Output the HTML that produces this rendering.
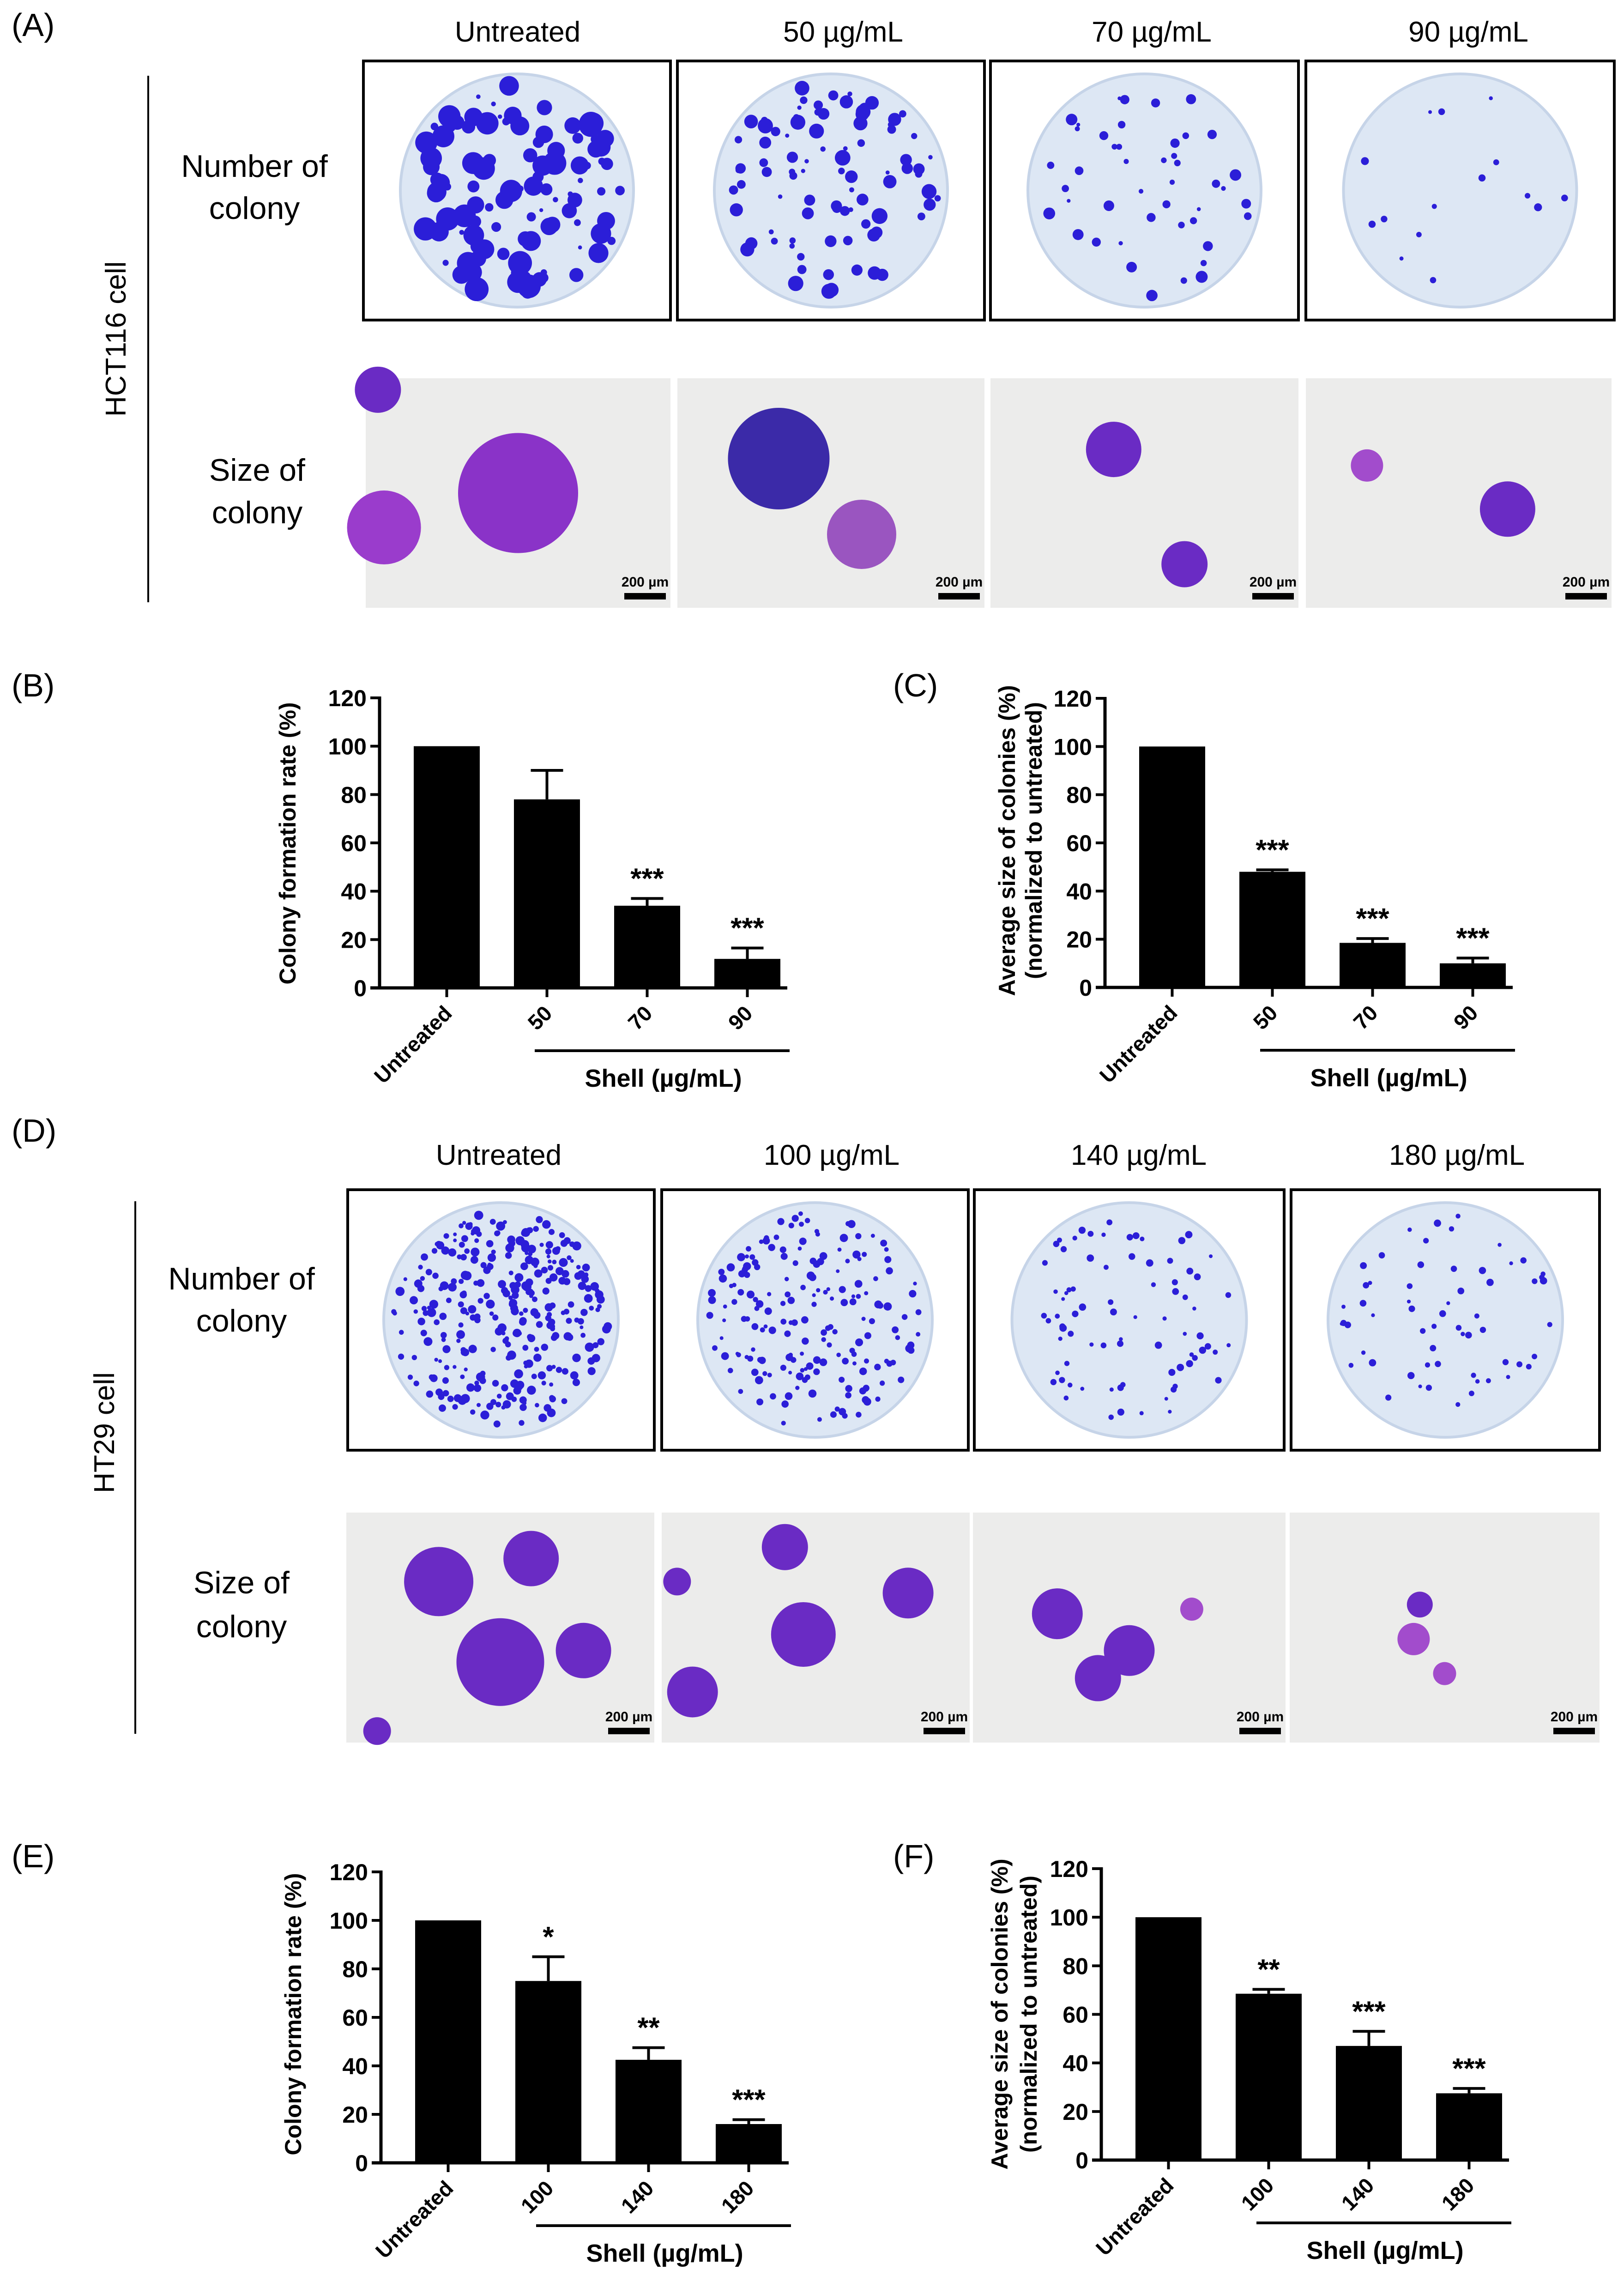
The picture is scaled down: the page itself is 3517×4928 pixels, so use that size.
<!DOCTYPE html>
<html><head><meta charset="utf-8"><style>
html,body{margin:0;padding:0;background:#fff}
svg{display:block}
text{font-family:"Liberation Sans",Arial,sans-serif}
</style></head><body>
<svg id="fig" xmlns="http://www.w3.org/2000/svg" width="3517" height="4928" viewBox="0 0 3517 4928">
<g id="static" font-size="66" fill="#000">
<text x="25" y="78" font-size="70">(A)</text>
<text x="25" y="1508" font-size="70">(B)</text>
<text x="1934" y="1508" font-size="70">(C)</text>
<text x="25" y="2472" font-size="70">(D)</text>
<text x="25" y="4043" font-size="70">(E)</text>
<text x="1934" y="4043" font-size="70">(F)</text>
</g>
<g id="panels"></g>
<g id="charts"></g>
</svg>
<script>
// ---------- chart data ----------
const catsB = ["Untreated","50","70","90"];
const valsB = [100,78,34,12];
const errB = [0,12,3,4.5];
const starsB = ["","","***","***"];
const catsC = ["Untreated","50","70","90"];
const valsC = [100,48,18.5,10];
const errC = [0,0.8,1.8,2.2];
const starsC = ["","***","***","***"];
const catsE = ["Untreated","100","140","180"];
const valsE = [100,75,42.5,16];
const errE = [0,10,5,1.8];
const starsE = ["","*","**","***"];
const catsF = ["Untreated","100","140","180"];
const valsF = [100,68.5,47,27.5];
const errF = [0,1.8,6,2];
const starsF = ["","**","***","***"];
const yTicks = [0,20,40,60,80,100,120];

const NS="http://www.w3.org/2000/svg";
function mk(tag, attrs, parent){const e=document.createElementNS(NS,tag);for(const k in attrs)e.setAttribute(k,attrs[k]);parent.appendChild(e);return e;}

function drawChart(name, x0, y0, y120, cats, vals, errs, stars, titles, titleX, titleY){
  const g=mk('g',{},document.getElementById('charts'));
  
  
  const ys=v=>y0-(v/120)*(y0-y120);
  const bx=i=>x0+74+i*217;
  const bw=143;
  cats.forEach((c,i)=>{
    const v=vals[i],e=errs[i],cx=bx(i)+bw/2;
    if(e>0){
      const l=mk('line',{x1:cx,x2:cx,y1:ys(v),y2:ys(v+e),stroke:'#000','stroke-width':6},g);
      
      
      const cap=mk('line',{x1:cx-35,x2:cx+35,y1:ys(v+e),y2:ys(v+e),stroke:'#000','stroke-width':6},g);
      
      
    }
    const r=mk('rect',{x:bx(i),y:ys(v),width:bw,height:y0-ys(v),fill:'#000'},g);
    
    
    if(stars[i]){
      const s=mk('text',{x:cx,y:ys(v+e)-22,'text-anchor':'middle','font-size':62,'font-weight':'bold'},g);
      s.textContent=stars[i];
      
      
    }
    const t=mk('line',{x1:cx,x2:cx,y1:y0,y2:y0+20,stroke:'#000','stroke-width':6},g);
    
    
    const lb=mk('text',{x:cx+14,y:y0+58,'text-anchor':'end','font-size':46,'font-weight':'bold',transform:`rotate(-45 ${cx+14} ${y0+58})`},g);
    lb.textContent=c;
    
    
  });
  const ax=mk('line',{x1:x0,x2:x0,y1:y120-3,y2:y0+3,stroke:'#000','stroke-width':7},g);
  
  
  const xa=mk('line',{x1:x0-20,x2:x0+883,y1:y0,y2:y0,stroke:'#000','stroke-width':7},g);
  
  
  yTicks.forEach(v=>{
    const t=mk('line',{x1:x0-20,x2:x0,y1:ys(v),y2:ys(v),stroke:'#000','stroke-width':6},g);
    
    
    const l=mk('text',{x:x0-28,y:ys(v)+18,'text-anchor':'end','font-size':50,'font-weight':'bold'},g);
    l.textContent=v;
    
    
  });
  const sl=mk('line',{x1:bx(1)+45,x2:bx(3)+bw+20,y1:y0+136,y2:y0+136,stroke:'#000','stroke-width':6},g);
  
  
  const st=mk('text',{x:(bx(1)+bx(3)+bw)/2+35,y:y0+214,'text-anchor':'middle','font-size':54,'font-weight':'bold'},g);
  st.textContent='Shell (µg/mL)';
  
  
  titles.forEach((tt,k)=>{
    const x=titleX[k];
    const t=mk('text',{x:x,y:titleY,'text-anchor':'middle','font-size':50,'font-weight':'bold',transform:`rotate(-90 ${x} ${titleY})`},g);
    t.textContent=tt;
    
    
  });
}
drawChart('chart-b-colony-rate-hct116',822,2139,1511,catsB,valsB,errB,starsB,["Colony formation rate (%)"],[640],1826);
drawChart('chart-c-colony-size-hct116',2393,2138,1512,catsC,valsC,errC,starsC,["Average size of colonies (%)","(normalized to untreated)"],[2198,2256],1820);
drawChart('chart-e-colony-rate-ht29',825,4683,4053,catsE,valsE,errE,starsE,["Colony formation rate (%)"],[652],4361);
drawChart('chart-f-colony-size-ht29',2385,4677,4046,catsF,valsF,errF,starsF,["Average size of colonies (%)","(normalized to untreated)"],[2182,2245],4361);

// ---------- photo panels (illustrative) ----------
const P=document.getElementById('panels');
let seed=7;function rnd(){seed=(seed*16807)%2147483647;return seed/2147483647;}
function txt(x,y,s,size,name,anchor,rot){
  const t=mk('text',{x:x,y:y,'font-size':size,'text-anchor':anchor||'middle'},P);
  if(rot)t.setAttribute('transform',`rotate(-90 ${x} ${y})`);
  t.textContent=s;
  
  
}
function plate(x1,x2,y1,y2,n,rmax,name){
  const g=mk('g',{},P);
  
  
  mk('rect',{x:x1,y:y1,width:x2-x1,height:y2-y1,fill:'#fff',stroke:'#000','stroke-width':6},g);
  const cx=(x1+x2)/2,cy=(y1+y2)/2,R=(y2-y1)/2-28;
  mk('circle',{cx:cx,cy:cy,r:R,fill:'#dde7f4',stroke:'#c6d4e8','stroke-width':6},g);
  for(let i=0;i<n;i++){const a=rnd()*6.283,d=Math.sqrt(rnd())*(R-20);
    mk('circle',{cx:cx+d*Math.cos(a),cy:cy+d*Math.sin(a),r:4+rnd()*rmax,fill:'#2b1ed8'},g);}
}
function micro(x1,x2,y1,y2,blobs,name){
  const g=mk('g',{},P);
  
  
  mk('rect',{x:x1,y:y1,width:x2-x1,height:y2-y1,fill:'#ececeb'},g);
  blobs.forEach(b=>mk('circle',{cx:x1+b[0]*(x2-x1),cy:y1+b[1]*(y2-y1),r:b[2],fill:b[3]||'#6a2bc4'},g));
  mk('rect',{x:x2-100,y:y2-32,width:90,height:14,fill:'#000'},g);
  const t=mk('text',{x:x2-55,y:y2-46,'font-size':30,'font-weight':'bold','text-anchor':'middle'},g);
  t.textContent='200 µm';
}
const hA=[["Untreated",1121],["50 µg/mL",1826],["70 µg/mL",2494],["90 µg/mL",3180]];
hA.forEach(h=>txt(h[1],90,h[0],62,'column-header'));
txt(551,383,'Number of',68,'row-label-number');txt(551,474,'colony',68,'row-label-number');
txt(557,1041,'Size of',68,'row-label-size');txt(557,1133,'colony',68,'row-label-size');
mk('line',{x1:321,x2:321,y1:164,y2:1304,stroke:'#000','stroke-width':4},P);
txt(272,734,'HCT116 cell',62,'cell-line-label','middle',true);
const bxA=[[787,1452],[1467,2132],[2145,2812],[2828,3496]];
const nA=[[110,22],[90,14],[45,9],[15,5]];
bxA.forEach((b,i)=>plate(b[0],b[1],132,693,nA[i][0],nA[i][1],'plate-a-'+i));
const sxA=[[792,1452],[1467,2132],[2145,2812],[2828,3490]];
const blA=[[[0.5,0.5,130,'#8a33c8'],[0.06,0.65,80,'#9a3ccc'],[0.04,0.05,50]],[[0.33,0.35,110,'#3b2aa8'],[0.6,0.68,75,'#9a55c0']],[[0.4,0.31,60],[0.63,0.81,50]],[[0.2,0.38,35,'#a24ccc'],[0.66,0.57,60]]];
sxA.forEach((b,i)=>micro(b[0],b[1],819,1316,blA[i],'micrograph-a-'+i));
const hD=[["Untreated",1080],["100 µg/mL",1801],["140 µg/mL",2466],["180 µg/mL",3155]];
hD.forEach(h=>txt(h[1],2522,h[0],62,'column-header'));
txt(523,2792,'Number of',68,'row-label-number');txt(523,2883,'colony',68,'row-label-number');
txt(523,3450,'Size of',68,'row-label-size');txt(523,3545,'colony',68,'row-label-size');
mk('line',{x1:293,x2:293,y1:2601,y2:3754,stroke:'#000','stroke-width':4},P);
txt(247,3102,'HT29 cell',62,'cell-line-label','middle',true);
const bxD=[[753,1417],[1433,2097],[2110,2781],[2796,3464]];
const nD=[[320,6],[190,5],[80,4],[60,4]];
bxD.forEach((b,i)=>plate(b[0],b[1],2576,3140,nD[i][0],nD[i][1],'plate-d-'+i));
const sxD=[[750,1417],[1433,2100],[2107,2784],[2793,3464]];
const blD=[[[0.3,0.3,75],[0.6,0.2,60],[0.5,0.65,95],[0.77,0.6,60],[0.1,0.95,30]],[[0.4,0.15,50],[0.46,0.53,70],[0.8,0.35,55],[0.1,0.78,55],[0.05,0.3,30]],[[0.27,0.44,55],[0.5,0.6,55],[0.4,0.72,50],[0.7,0.42,25,'#a24ccc']],[[0.42,0.4,28],[0.4,0.55,35,'#a24ccc'],[0.5,0.7,25,'#a24ccc']]];
sxD.forEach((b,i)=>micro(b[0],b[1],3275,3773,blD[i],'micrograph-d-'+i));
</script>
</body></html>
